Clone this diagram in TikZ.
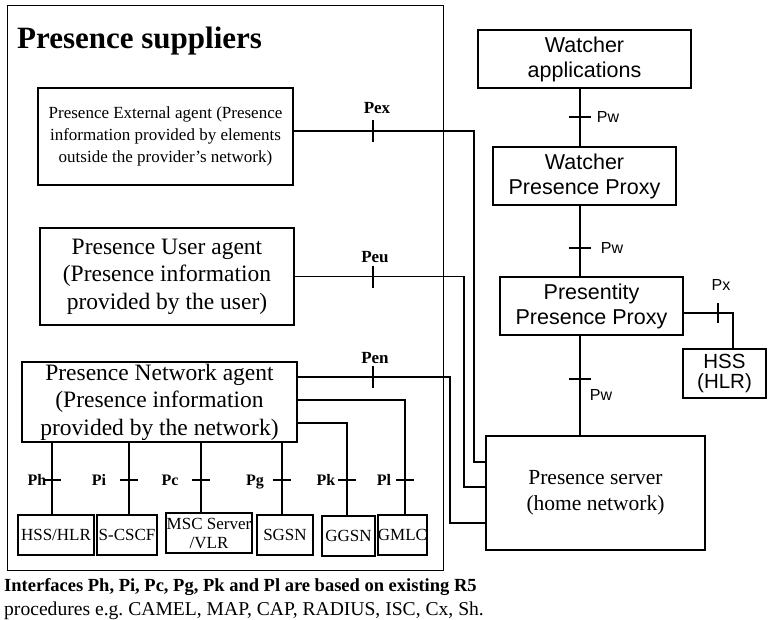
\documentclass[tikz,border=0pt]{standalone}
\usepackage{fontspec}
\setmainfont{Liberation Serif}
\newfontfamily\arialf{Liberation Sans}
\newcommand\fsz[2]{\fontsize{#1}{#2}\selectfont}
\frenchspacing
\begin{document}
\begin{tikzpicture}[x=1pt,y=-1pt,
  box/.style={draw, line width=1.4pt, inner sep=0pt, align=center},
  agentbox/.style={box, font=\fsz{23.5}{27.5}},
  elembox/.style={box, font=\fsz{17}{19}},
  sansbox/.style={box, font=\arialf\fsz{21.5}{25}},
  link/.style={line width=1.3pt},
  tickmark/.style={line width=1.4pt},
  ifname/.style={inner sep=0pt, font=\fsz{17}{19}\bfseries},
  ifsmall/.style={inner sep=0pt, anchor=base, font=\fsz{16}{18}\bfseries},
  ifsans/.style={inner sep=0pt, font=\arialf\fsz{16}{18}},
  notetext/.style={anchor=base west, inner sep=0pt}]
\useasboundingbox (0,0) rectangle (769,619);

% frame around the presence suppliers
\node[draw, line width=0.9pt, inner sep=0pt, minimum width=436pt, minimum height=565pt] (suppliers) at (225,287.5) {};
\node[anchor=base west, inner sep=0pt, font=\fsz{31}{36}\bfseries] (title) at (17,48.5) {Presence suppliers};

% agents
\node[box, minimum width=255pt, minimum height=97pt, font=\fsz{17}{22}] (ext) at (165.5,136.5)
  {Presence External agent (Presence\\information provided by elements\\outside the provider's network)};
\node[agentbox, minimum width=254pt, minimum height=97pt] (user) at (167,276.5)
  {Presence User agent\\(Presence information\\provided by the user)};
\node[agentbox, minimum width=275pt, minimum height=80pt] (net) at (159.5,402)
  {Presence Network agent\\(Presence information\\provided by the network)};

% network elements
\node[elembox, minimum width=76pt, minimum height=40pt] (hsshlr) at (56,535) {HSS/HLR};
\node[elembox, minimum width=60pt, minimum height=40pt] (scscf) at (127,535) {S-CSCF};
\node[elembox, minimum width=86pt, minimum height=40pt] (msc) at (209,533) {MSC Server\\/VLR};
\node[elembox, minimum width=56pt, minimum height=40pt] (sgsn) at (285,535) {SGSN};
\node[elembox, minimum width=53pt, minimum height=40pt] (ggsn) at (348.5,536) {GGSN};
\node[elembox, minimum width=41pt, minimum height=40pt] (gmlc) at (402.5,535) {GMLC};

% watcher side
\node[sansbox, minimum width=213pt, minimum height=58pt] (wa) at (584.5,59) {Watcher\\applications};
\node[sansbox, minimum width=183pt, minimum height=58pt] (wpp) at (584.5,176) {Watcher\\Presence Proxy};
\node[sansbox, minimum width=183pt, minimum height=58pt] (ppp) at (591.5,306) {Presentity\\Presence Proxy};
\node[box, font=\arialf\fsz{20.5}{20.5}, minimum width=83pt, minimum height=49pt] (hss) at (724.5,373.5) {HSS\\(HLR)};
\node[box, font=\fsz{21.5}{26}, minimum width=219pt, minimum height=114pt] (server) at (595.5,493)
  {Presence server\\(home network)};

% interfaces towards the presence server
\coordinate (pexbend) at (474,131);
\draw[link] ([yshift=5.5pt]ext.east) -- (pexbend) |- ([yshift=31pt]server.west);
\coordinate (peubend) at (464,276.5);
\draw[link] (user.east) -- (peubend) |- ([yshift=6pt]server.west);
\coordinate (penbend) at (450,377);
\draw[link] ([yshift=25pt]net.east) -- (penbend) |- ([yshift=-30pt]server.west);

% interfaces to the network elements
\coordinate (plbend) at (405,400);
\draw[link] ([yshift=2pt]net.east) -- (plbend) -- (gmlc.north -| plbend);
\coordinate (pkbend) at (347,423);
\draw[link] ([yshift=-21pt]net.east) -- (pkbend) -- (ggsn.north -| pkbend);
\coordinate (pgx) at (282,0);
\draw[link] (net.south -| pgx) -- (sgsn.north -| pgx);
\coordinate (pcx) at (201,0);
\draw[link] (net.south -| pcx) -- (msc.north -| pcx);
\coordinate (pix) at (129,0);
\draw[link] (net.south -| pix) -- (scscf.north -| pix);
\coordinate (phx) at (52,0);
\draw[link] (net.south -| phx) -- (hsshlr.north -| phx);

% Pw chain and Px
\coordinate (pwx) at (580,0);
\draw[link] (wa.south -| pwx) -- (wpp.north -| pwx);
\draw[link] (wpp.south -| pwx) -- (ppp.north -| pwx);
\draw[link] (ppp.south -| pwx) -- (server.north -| pwx);
\coordinate (pxbend) at (733,313);
\draw[link] ([yshift=-7pt]ppp.east) -- (pxbend) -- (hss.north -| pxbend);

% tick marks
\foreach \y in {131,276.5,377} \draw[tickmark] (373,\y-11) -- (373,\y+11);
\foreach \x in {52,129,201,282,347,405} \draw[tickmark] (\x-9,480) -- (\x+9,480);
\foreach \y in {117,248,379} \draw[tickmark] (569,\y) -- (591,\y);
\draw[tickmark] (718,303) -- (718,323);

% interface names
\node[ifname] (lpex) at (377,108) {Pex};
\node[ifname] (lpeu) at (375,257) {Peu};
\node[ifname] (lpen) at (375,358) {Pen};
\node[ifsmall] (lph) at (37,485.5) {Ph};
\node[ifsmall] (lpi) at (99,485.5) {Pi};
\node[ifsmall] (lpc) at (170,485.5) {Pc};
\node[ifsmall] (lpg) at (255,485.5) {Pg};
\node[ifsmall] (lpk) at (326,485.5) {Pk};
\node[ifsmall] (lpl) at (384,485.5) {Pl};
\node[ifsans] (lpw1) at (608,117) {Pw};
\node[ifsans] (lpw2) at (612,248) {Pw};
\node[ifsans] (lpw3) at (601,395) {Pw};
\node[ifsans] (lpx) at (721,285) {Px};

% note below the frame
\node[notetext, font=\fsz{18.5}{25}\bfseries] (note1) at (4,591)
  {Interfaces Ph, Pi, Pc, Pg, Pk and Pl are based on existing R5};
\node[notetext, font=\fsz{19.6}{25}] (note2) at (4,615.5)
  {procedures e.g. CAMEL, MAP, CAP, RADIUS, ISC, Cx, Sh.};
\end{tikzpicture}
\end{document}
